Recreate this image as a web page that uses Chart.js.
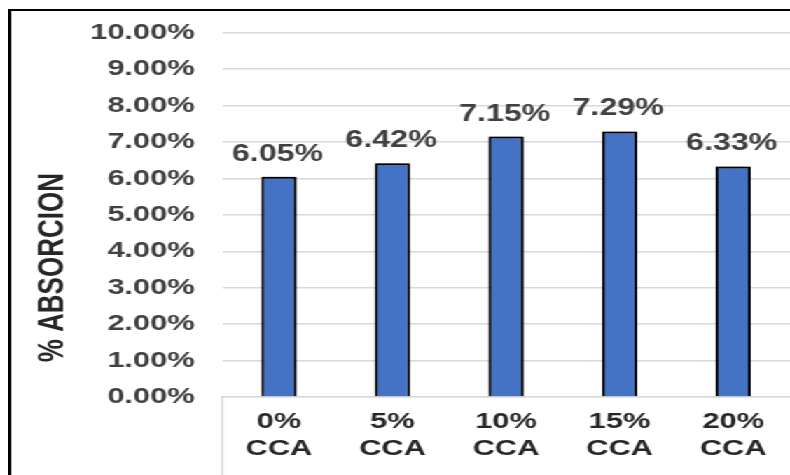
<!DOCTYPE html>
<html>
<head>
<meta charset="utf-8">
<script src="https://cdn.jsdelivr.net/npm/chart.js@4.4.1/dist/chart.umd.min.js"></script>
<style>
  html, body { margin: 0; padding: 0; background: #fff; overflow: hidden; }
  /* the source picture is stretched sideways, so the chart is drawn narrow and widened */
  #wrap { position: relative; width: 564px; height: 475px; transform: scaleX(1.4007); transform-origin: 0 0; }
  #frame { position: absolute; left: 6px; top: 9px; right: -10px; bottom: -10px;
           border-left: 2px solid #000; border-top: 2px solid #000; pointer-events: none; }
</style>
</head>
<body>
<div id="wrap">
  <canvas id="absChart"></canvas>
  <div id="frame"></div>
</div>
<script>
// Data
const categories = [['0%', 'CCA'], ['5%', 'CCA'], ['10%', 'CCA'], ['15%', 'CCA'], ['20%', 'CCA']];
const absorcion = [6.05, 6.42, 7.15, 7.29, 6.33];
const yTicks = [0, 1, 2, 3, 4, 5, 6, 7, 8, 9, 10];
const yTitle = '% ABSORCION';

const FONT = "'Liberation Sans', Arial, sans-serif";
const GRID = '#d9d9d9';

// soft dark shadow round the bars
const barShadow = {
    id: 'barShadow',
    beforeDatasetsDraw(chart) {
        const ctx = chart.ctx;
        ctx.save();
        ctx.shadowColor = 'rgba(0,0,0,0.6)';
        ctx.shadowBlur = 7;
        ctx.shadowOffsetX = -1.5;
        ctx.shadowOffsetY = -1;
    },
    afterDatasetsDraw(chart) {
        chart.ctx.restore();
    }
};

// value labels above each bar
const valueLabels = {
    id: 'valueLabels',
    afterDatasetsDraw(chart) {
        const ctx = chart.ctx;
        const meta = chart.getDatasetMeta(0);
        ctx.save();
        ctx.font = 'bold 23px ' + FONT;
        ctx.fillStyle = '#404040';
        ctx.textAlign = 'center';
        ctx.textBaseline = 'alphabetic';
        meta.data.forEach((bar, i) => {
            ctx.fillText(absorcion[i].toFixed(2) + '%', bar.x - 1, bar.y - 16);
        });
        ctx.restore();
    }
};

// left edge of the category "table" under the axis, and the y title
// (the title sits lower than the middle of the plot, as in the source)
const extras = {
    id: 'extras',
    afterDraw(chart) {
        const ctx = chart.ctx;
        const area = chart.chartArea;
        const x = chart.scales.x.left;
        ctx.save();
        ctx.strokeStyle = GRID;
        ctx.lineWidth = 1.5;
        ctx.beginPath();
        ctx.moveTo(x, area.bottom);
        ctx.lineTo(x, chart.height);
        ctx.stroke();

        ctx.translate(chart.scales.y.left - 7, area.top + (area.bottom - area.top) * 0.645);
        ctx.rotate(-Math.PI / 2);
        ctx.font = 'bold 26px ' + FONT;
        ctx.fillStyle = '#262626';
        ctx.textAlign = 'center';
        ctx.textBaseline = 'middle';
        ctx.fillText(yTitle, 0, 0);
        ctx.restore();
    }
};

new Chart(document.getElementById('absChart'), {
    type: 'bar',
    data: {
        labels: categories,
        datasets: [{
            data: absorcion,
            backgroundColor: '#4472c4',
            borderColor: '#000000',
            borderWidth: 2,
            barPercentage: 0.31,
            categoryPercentage: 1
        }]
    },
    options: {
        responsive: true,
        maintainAspectRatio: false,
        animation: false,
        layout: { padding: { left: 44.8, top: 29, right: 0, bottom: 1.2 } },
        plugins: {
            legend: { display: false },
            tooltip: { enabled: false }
        },
        scales: {
            x: {
                grid: { display: false, drawTicks: false },
                border: { display: true, color: GRID, width: 1.5 },
                ticks: {
                    color: '#262626',
                    padding: 12,
                    font: { family: FONT, size: 22, weight: 'bold', lineHeight: 1.2 }
                }
            },
            y: {
                min: yTicks[0],
                max: yTicks[yTicks.length - 1],
                afterBuildTicks(scale) {
                    scale.ticks = yTicks.map(v => ({ value: v }));
                },
                grid: { color: GRID, lineWidth: 1.5, drawTicks: false },
                border: { display: false },
                ticks: {
                    color: '#404040',
                    padding: 19.6,
                    font: { family: FONT, size: 22, weight: 'bold' },
                    callback: v => v.toFixed(2) + '%'
                }
            }
        }
    },
    plugins: [barShadow, valueLabels, extras]
});
</script>
</body>
</html>
